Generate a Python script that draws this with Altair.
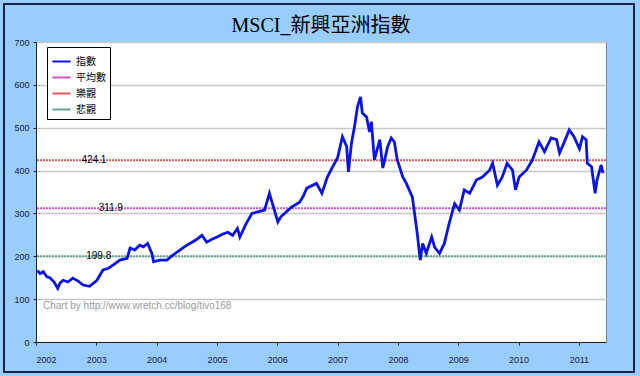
import altair as alt
import pandas as pd

title_text = "MSCI_新興亞洲指數"
credit_text = "Chart by http://www.wretch.cc/blog/tivo168"

series_names = ["指數", "平均數", "樂觀", "悲觀"]
series_colors = ["#0a14e6", "#cc55cc", "#e05a5a", "#5fa88a"]

ref_names = ["平均數", "樂觀", "悲觀"]
ref_values = [311.9, 424.1, 199.8]
ref_labels = ["311.9", "424.1", "199.8"]
ref_label_years = [2003.24, 2002.96, 2003.04]

x_ticks = [2002, 2003, 2004, 2005, 2006, 2007, 2008, 2009, 2010, 2011]
y_ticks = [0, 100, 200, 300, 400, 500, 600, 700]

years = [2002.02, 2002.07, 2002.12, 2002.18, 2002.23, 2002.30, 2002.36, 2002.40,
         2002.45, 2002.53, 2002.61, 2002.70, 2002.78, 2002.89,
         2003.01, 2003.11, 2003.20, 2003.27, 2003.39, 2003.51, 2003.56, 2003.64,
         2003.72, 2003.78, 2003.85,
         2003.92, 2003.95, 2004.05, 2004.17, 2004.27, 2004.38, 2004.46, 2004.55,
         2004.65, 2004.75,
         2004.83, 2004.92, 2005.00, 2005.10, 2005.18, 2005.26, 2005.34, 2005.38,
         2005.48, 2005.58, 2005.66,
         2005.79, 2005.87, 2005.92, 2006.01, 2006.06, 2006.12, 2006.24, 2006.37,
         2006.43, 2006.49,
         2006.65, 2006.74, 2006.83, 2006.92, 2007.00, 2007.08, 2007.15, 2007.18,
         2007.23,
         2007.28, 2007.33, 2007.38, 2007.41, 2007.48, 2007.53, 2007.56, 2007.61,
         2007.70, 2007.75, 2007.83, 2007.89, 2007.94, 2007.99, 2008.08, 2008.14,
         2008.24, 2008.32, 2008.37, 2008.41, 2008.47, 2008.56, 2008.61, 2008.69,
         2008.77, 2008.85, 2008.94, 2009.02, 2009.10, 2009.19, 2009.30, 2009.40,
         2009.52, 2009.57, 2009.65, 2009.73, 2009.81, 2009.90, 2009.95, 2010.01,
         2010.13, 2010.23, 2010.29, 2010.34, 2010.43, 2010.54, 2010.63, 2010.68,
         2010.76, 2010.84, 2010.92, 2011.01, 2011.06, 2011.12, 2011.14, 2011.21,
         2011.27, 2011.30, 2011.37, 2011.40]
index_values = [167, 160, 164, 152, 150, 140, 125, 138,
                144, 140, 149, 142, 133, 130,
                144, 168, 172, 179, 191, 195, 219, 215,
                226, 222, 230,
                207, 187, 191, 191, 203, 214, 222, 230,
                238, 249,
                233, 240, 245, 252, 256, 249, 265, 245,
                275, 300, 303,
                308, 347, 323, 280, 292, 300, 315, 326,
                340, 359,
                370, 347, 385, 409, 430, 479, 456, 397,
                464,
                502, 549, 572, 534, 525, 490, 514, 425,
                472, 406, 456, 476, 467, 425, 385, 370,
                338, 254, 191, 230, 207, 245, 221, 207,
                230, 277, 323, 308, 355, 347, 378, 385,
                401, 417, 366, 385, 417, 401, 355, 385,
                401, 425, 448, 467, 444, 476, 472, 441,
                467, 495, 479, 451, 479, 472, 417, 409,
                347, 378, 413, 394]

df_line = pd.DataFrame({"year": years, "value": index_values, "series": series_names[0]})
df_ref = pd.DataFrame({"series": ref_names, "value": ref_values,
                       "label": ref_labels, "year": ref_label_years})

color = alt.Color(
    "series:N",
    title=None,
    scale=alt.Scale(domain=series_names, range=series_colors),
    legend=alt.Legend(
        orient="none", legendX=11, legendY=5, symbolType="stroke",
        symbolStrokeWidth=2, symbolSize=330, padding=4, strokeColor="#000000",
        fillColor="#ffffff", labelFont="Noto Sans CJK TC", labelFontSize=10,
        labelColor="#000000", rowPadding=0, labelOffset=4,
    ),
)

x_enc = alt.X(
    "year:Q", title=None,
    scale=alt.Scale(domain=[2002, 2011.45], nice=False, zero=False),
    axis=alt.Axis(values=x_ticks, format="d", grid=False, tickSize=3,
                  labelPadding=10, labelFont="Liberation Sans", labelFontSize=9,
                  labelColor="#1a1a40", domainColor="#202020", tickColor="#202020"),
)
y_enc = alt.Y(
    "value:Q", title=None,
    scale=alt.Scale(domain=[0, 700], nice=False),
    axis=alt.Axis(values=y_ticks, grid=True, gridColor="#c8c8c8", gridWidth=1.5,
                  tickSize=3, labelPadding=4, labelFont="Liberation Sans",
                  labelFontSize=9, labelColor="#1a1a40", domainColor="#202020",
                  tickColor="#202020"),
)

frame = alt.Chart(pd.DataFrame({"k": [0]})).mark_rect(
    fillOpacity=0, stroke="#1c2340", strokeWidth=2
).encode(x=alt.value(-32), x2=alt.value(598), y=alt.value(-38), y2=alt.value(330))

rules = alt.Chart(df_ref).mark_rule(strokeWidth=2, strokeDash=[2, 1]).encode(
    y=y_enc, color=color
)

line = alt.Chart(df_line).mark_line(strokeWidth=2.8).encode(
    x=x_enc, y="value:Q", color=color
)

labels = alt.Chart(df_ref).mark_text(
    font="Liberation Sans", fontSize=10, color="#000000", baseline="middle"
).encode(x="year:Q", y="value:Q", text="label:N")

credit = alt.Chart(pd.DataFrame({"t": [credit_text]})).mark_text(
    align="left", baseline="middle", font="Liberation Sans", fontSize=10,
    color="#9a9a9a"
).encode(x=alt.value(7), y=alt.value(264), text="t:N")

chart = alt.layer(frame, rules, line, labels, credit).properties(
    width=570, height=300,
    title=alt.TitleParams(title_text, font="Liberation Serif, Noto Sans CJK TC",
                          fontSize=20, fontWeight="normal", anchor="middle",
                          color="#000000", offset=2, dy=35),
    autosize=alt.AutoSizeParams(type="none"),
    padding={"left": 36, "top": 42, "right": 34, "bottom": 34},
    background="#99ccff",
).configure_view(fill="#ffffff", stroke="#808080")

chart.save("out.html", embed_options={"renderer": "svg", "actions": False})
